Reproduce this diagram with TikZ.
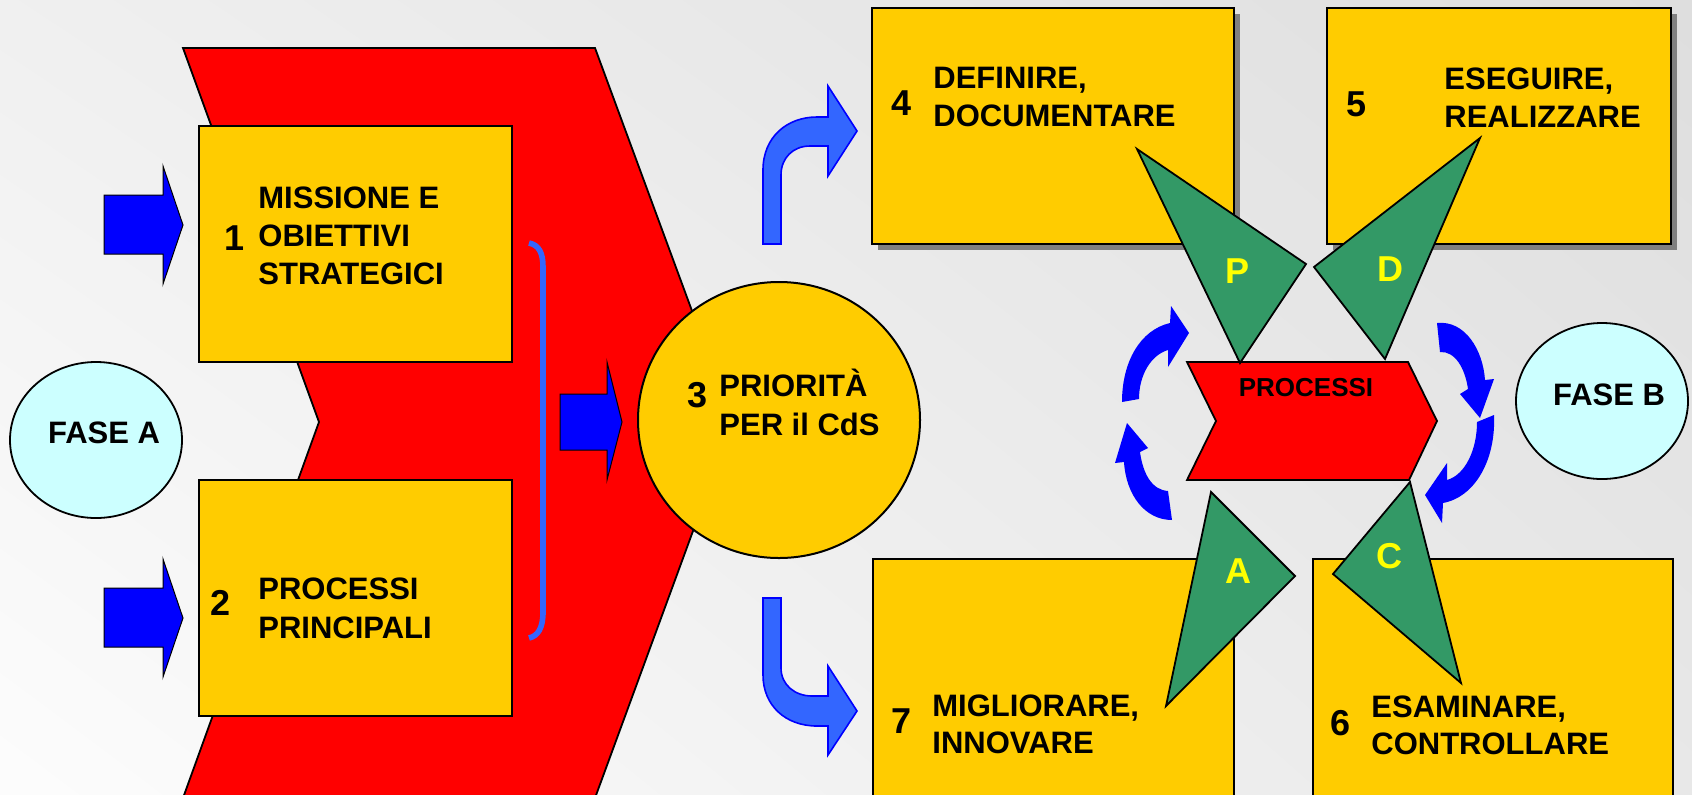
\documentclass[tikz,border=0pt]{standalone}
\usepackage{fontspec}
\setmainfont{Liberation Sans}
\usetikzlibrary{shadings}
\definecolor{boxyellow}{HTML}{FFCC00}
\definecolor{chevred}{HTML}{FF0000}
\definecolor{tri}{HTML}{339966}
\definecolor{phase}{HTML}{CCFFFF}
\definecolor{deepblue}{HTML}{0000FF}
\definecolor{softblue}{HTML}{3366FF}
\definecolor{lettery}{HTML}{FFFF00}
\newcommand\txtfont{\fontsize{15.5pt}{18pt}\selectfont\bfseries}
\newcommand\numfont{\fontsize{18pt}{21pt}\selectfont\bfseries}
\newcommand\procfont{\fontsize{13pt}{15pt}\selectfont\bfseries}
\begin{document}
\begin{tikzpicture}[x=0.5pt,y=-0.5pt,
  box/.style={draw=black,line width=1pt,fill=boxyellow},
  shadowbox/.style={fill=black!50,draw=none},
  redshape/.style={draw=black,line width=0.9pt,fill=chevred},
  triangle/.style={draw=black,line width=0.9pt,fill=tri},
  phasebubble/.style={draw=black,line width=0.9pt,fill=phase},
  blockarrow/.style={draw=black,line width=0.5pt,fill=deepblue},
  bentarrow/.style={draw=deepblue,line width=0.8pt,fill=softblue},
  cyclearrow/.style={fill=deepblue,draw=none},
  lbl/.style={anchor=base west,inner sep=0pt,font=\txtfont},
  numlbl/.style={anchor=base,inner sep=0pt,font=\numfont},
  pdca/.style={anchor=base,inner sep=0pt,font=\numfont,text=lettery},
  phaselbl/.style={anchor=base,inner sep=0pt,font=\txtfont}]

% page and background
\useasboundingbox (0pt,0pt) rectangle (846pt,-397pt);
\clip (0pt,0pt) rectangle (846pt,-397pt);
\shade[upper left=black!6,lower left=black!1,upper right=black!13,lower right=black!9]
  (0pt,0pt) rectangle (846pt,-397pt);

% large red chevron behind phase A
\draw[redshape] (183,48) -- (595,48) -- (733,422) -- (595,798) -- (183,798) -- (319,422) -- cycle;

% boxes 1 and 2
\draw[box] (199,126) rectangle (512,362);
\draw[box] (199,480) rectangle (512,716);

% phase A bubble
\draw[phasebubble] (96,440) ellipse [x radius=43pt,y radius=39pt];
\node[phaselbl] (faseA) at (104,443) {FASE A};

% input arrows
\draw[blockarrow] (104,195) -- (163,195) -- (163,166) -- (183,225) -- (163,284) -- (163,254) -- (104,254) -- cycle;
\draw[blockarrow] (104,588) -- (163,588) -- (163,559) -- (183,618) -- (163,677) -- (163,647) -- (104,647) -- cycle;

% bracket joining boxes 1 and 2
\draw[softblue,line width=2.8pt] (529,243) .. controls (539,245) and (543,253) .. (543,267) -- (543,612) .. controls (543,628) and (538,636) .. (529,638);

% arrow into circle 3
\draw[blockarrow] (560,394) -- (607,394) -- (607,362) -- (622,422) -- (607,480) -- (607,450) -- (560,450) -- cycle;

% circle 3
\draw[box] (779,420) ellipse [x radius=70.5pt,y radius=69pt];
\node[numlbl] (n3) at (698,407) {3};
\node[lbl] (t3a) at (719,396) {PRIORITÀ};
\node[lbl] (t3b) at (719,435) {PER il CdS};

% bent arrows towards boxes 4 and 7
\draw[bentarrow] (763,244) -- (763,170) .. controls (763,137) and (787,117) .. (817,117) -- (828,117) -- (828,86) -- (857,131) -- (828,176) -- (828,146) -- (810,146) .. controls (793,146) and (781,158) .. (781,175) -- (781,244) -- cycle;
\draw[bentarrow] (763,598) -- (781,598) -- (781,668) .. controls (781,685) and (795,696) .. (812,696) -- (828,696) -- (828,666) -- (857,711) -- (828,755) -- (828,726) -- (817,726) .. controls (785,726) and (763,705) .. (763,675) -- cycle;

% boxes 4 and 5 with drop shadows
\fill[shadowbox] (878,14) rectangle (1240,250);
\draw[box] (872,8) rectangle (1234,244);
\fill[shadowbox] (1333,14) rectangle (1677,250);
\draw[box] (1327,8) rectangle (1671,244);

% boxes 7 and 6
\draw[box] (873,559) rectangle (1234,800);
\draw[box] (1313,559) rectangle (1673,800);

% box texts
\node[numlbl] (n1) at (235,250) {1};
\node[lbl] (t1a) at (258,208) {MISSIONE E};
\node[lbl] (t1b) at (258,246) {OBIETTIVI};
\node[lbl] (t1c) at (258,284) {STRATEGICI};

\node[numlbl] (n2) at (221,615) {2};
\node[lbl] (t2a) at (258,599) {PROCESSI};
\node[lbl] (t2b) at (258,638) {PRINCIPALI};

\node[numlbl] (n4) at (902,115) {4};
\node[lbl] (t4a) at (933,88) {DEFINIRE,};
\node[lbl] (t4b) at (933,126) {DOCUMENTARE};

\node[numlbl] (n5) at (1356,116) {5};
\node[lbl] (t5a) at (1444,89) {ESEGUIRE,};
\node[lbl] (t5b) at (1444,127) {REALIZZARE};

\node[numlbl] (n7) at (902,733) {7};
\node[lbl] (t7a) at (932,716) {MIGLIORARE,};
\node[lbl] (t7b) at (932,753) {INNOVARE};

\node[numlbl] (n6) at (1340,735) {6};
\node[lbl] (t6a) at (1371,717) {ESAMINARE,};
\node[lbl] (t6b) at (1371,754) {CONTROLLARE};

% process chevron
\draw[redshape] (1187,362) -- (1408,362) -- (1437,421) -- (1409,480) -- (1187,480) -- (1216,421) -- cycle;
\node[anchor=base,inner sep=0pt,font=\procfont] (proc) at (1306,396) {PROCESSI};

% PDCA wedges
\draw[triangle] (1137,149) -- (1306,264) -- (1240,363) -- cycle;
\draw[triangle] (1480,138) -- (1314,267) -- (1385,359) -- cycle;
\draw[triangle] (1211,492) -- (1295,576) -- (1166,706) -- cycle;
\draw[triangle] (1410,482) -- (1333,574) -- (1461,683) -- cycle;
\node[pdca] (lp) at (1237,283) {P};
\node[pdca] (ld) at (1390,281) {D};
\node[pdca] (la) at (1238,583) {A};
\node[pdca] (lc) at (1389,568) {C};

% cycle arrows around the process
\fill[cyclearrow] (1122,402) .. controls (1122,362) and (1140,330) .. (1170,323) -- (1171,306) -- (1189,333) -- (1168,367) -- (1168,350) .. controls (1151,355) and (1139,375) .. (1139,399) -- cycle;
\fill[cyclearrow] (1172,520) .. controls (1145,520) and (1126,495) .. (1124,462) -- (1115,463) -- (1127,423) -- (1148,448) -- (1140,452) .. controls (1143,474) and (1152,490) .. (1168,491) -- cycle;
\fill[cyclearrow] (1437,323) .. controls (1465,320) and (1483,350) .. (1485,380) -- (1494,379) -- (1480,418) -- (1460,394) -- (1468,389) .. controls (1465,368) and (1455,351) .. (1440,352) -- cycle;
\fill[cyclearrow] (1477,422) -- (1494,415) .. controls (1496,460) and (1475,497) .. (1443,503) -- (1442,523) -- (1425,495) -- (1447,463) -- (1447,480) .. controls (1465,475) and (1477,450) .. (1477,422) -- cycle;

% phase B bubble
\draw[phasebubble] (1602,401) ellipse [x radius=43pt,y radius=39pt];
\node[phaselbl] (faseB) at (1609,405) {FASE B};
\end{tikzpicture}
\end{document}
